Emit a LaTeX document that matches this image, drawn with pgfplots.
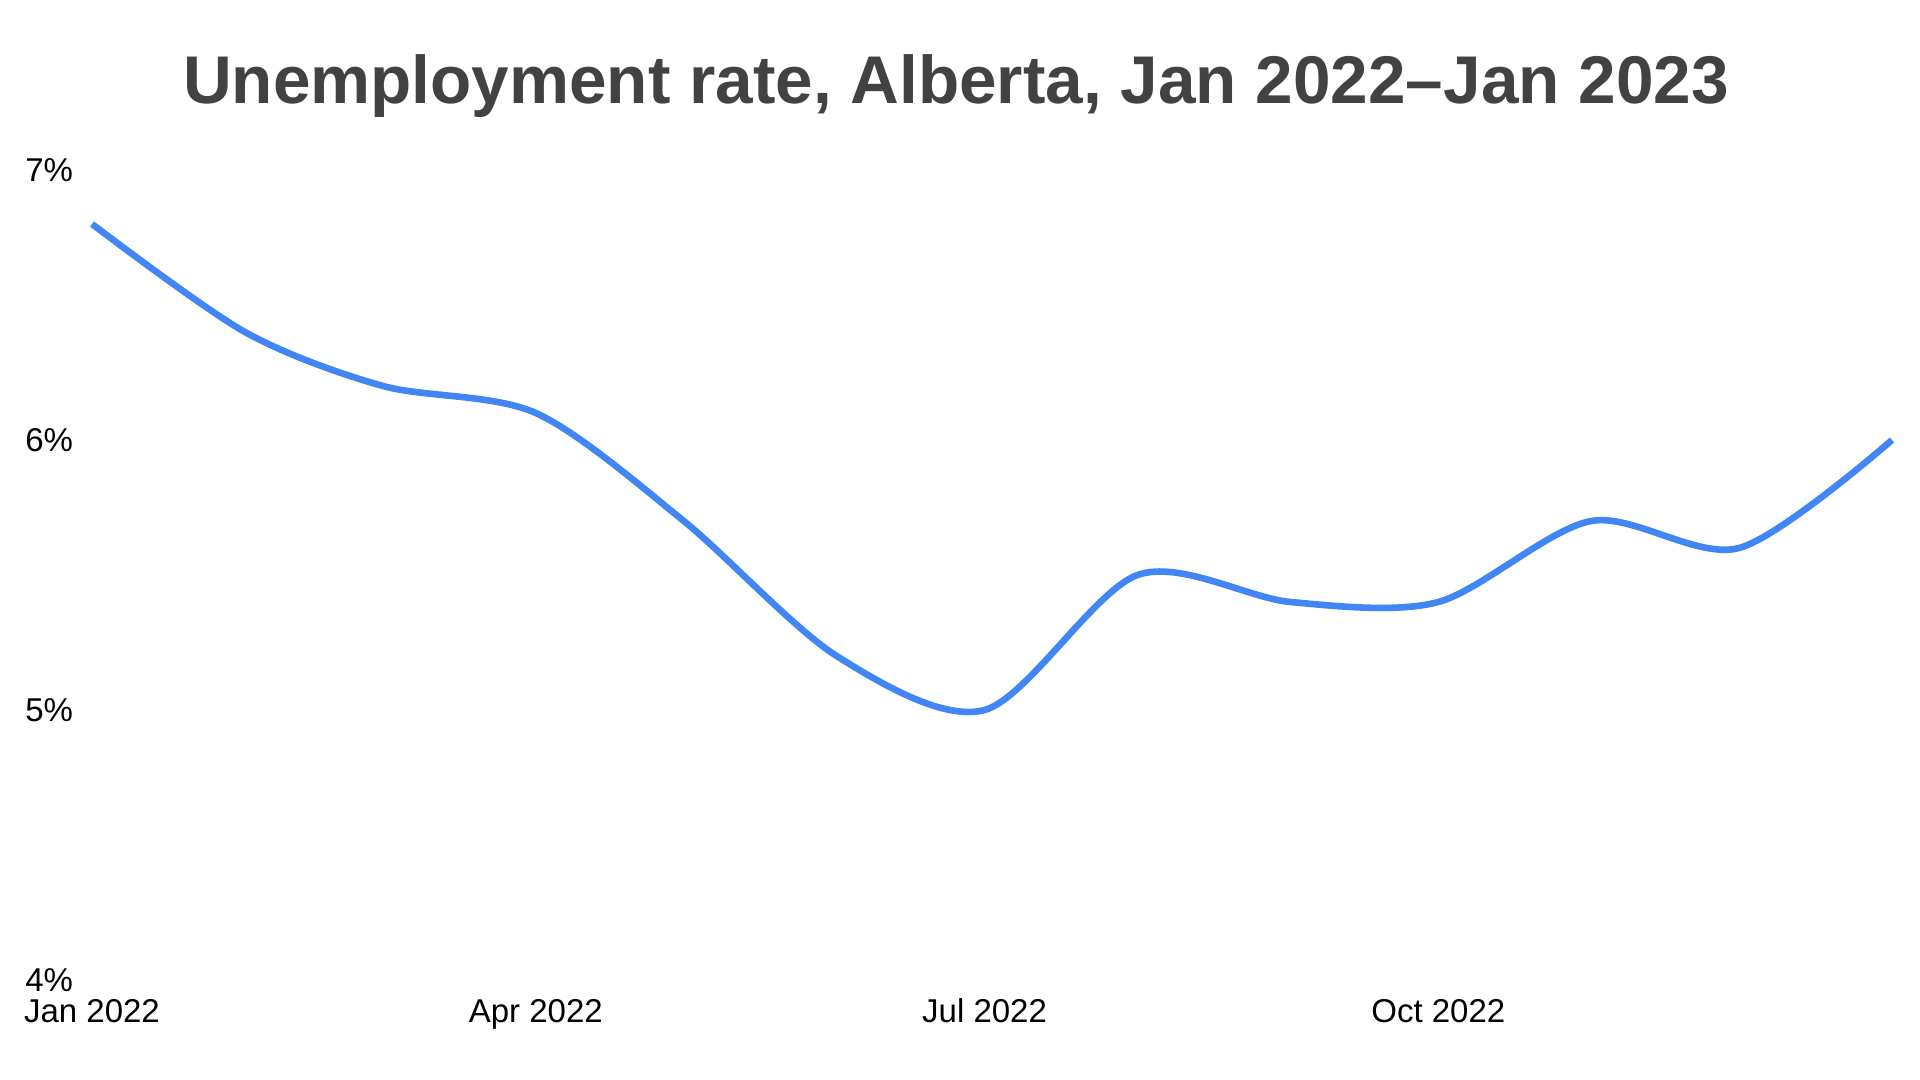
\documentclass[border=0pt]{standalone}
\usepackage{fontspec}
\setmainfont{Liberation Sans}
\usepackage{pgfplots}
\pgfplotsset{compat=1.18}
\definecolor{gblue}{HTML}{4285F4}
\definecolor{titlegray}{HTML}{424242}
\begin{document}
\begin{tikzpicture}
\useasboundingbox (0,0) rectangle (960bp,540bp);
\begin{axis}[
  at={(46bp,50bp)}, anchor=south west,
  scale only axis, width=900bp, height=405bp,
  xmin=0, xmax=365, ymin=4, ymax=7,
  axis x line*=bottom, axis y line*=left,
  axis line style={draw=none},
  major tick length=0pt,
  xtick={0,90,181,273},
  xticklabels={Jan 2022,Apr 2022,Jul 2022,Oct 2022},
  ytick={4,5,6,7},
  yticklabels={4\%,5\%,6\%,7\%},
  xticklabel style={anchor=base, inner sep=0pt, yshift=-21.5bp, font=\fontsize{16.5bp}{18bp}\selectfont, text=black},
  yticklabel style={anchor=west, inner sep=0pt, xshift=-33.5bp, font=\fontsize{16.5bp}{18bp}\selectfont, text=black},
  clip=false,
]
\addplot[gblue, line width=3.3bp, smooth, no markers] coordinates {
  (0,6.8) (31,6.4) (59,6.2) (90,6.1) (120,5.7) (151,5.2) (181,5.0)
  (212,5.5) (243,5.4) (273,5.4) (304,5.7) (334,5.6) (365,6.0)
};
\end{axis}
\node[anchor=base, inner sep=0pt, text=titlegray, font=\bfseries\fontsize{33.75bp}{38bp}\selectfont] at (478bp,488bp) {Unemployment rate, Alberta, Jan 2022–Jan 2023};
\end{tikzpicture}
\end{document}
